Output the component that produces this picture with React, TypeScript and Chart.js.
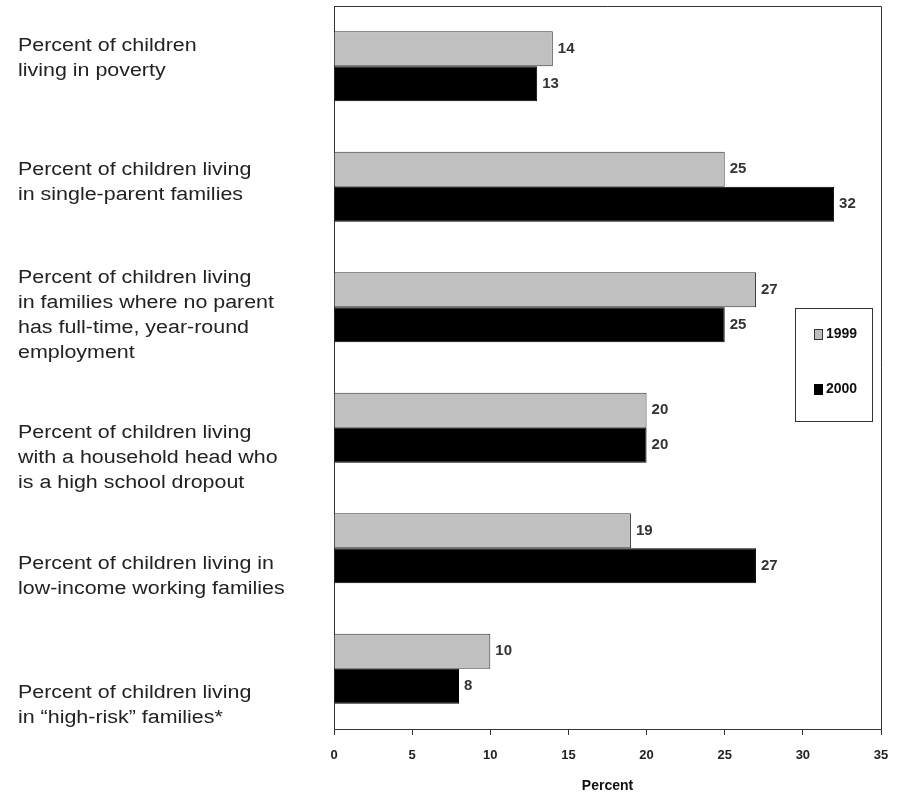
import React, { useEffect, useRef } from "react";
import { Chart, registerables } from "chart.js";

Chart.register(...registerables);

// ---- data ----
const categories: string[][] = [
  ["Percent of children", "living in poverty"],
  ["Percent of children living", "in single-parent families"],
  ["Percent of children living", "in families where no parent", "has full-time, year-round", "employment"],
  ["Percent of children living", "with a household head who", "is a high school dropout"],
  ["Percent of children living in", "low-income working families"],
  ["Percent of children living", "in \u201Chigh-risk\u201D families*"],
];
const seriesNames = ["1999", "2000"];
const values1999 = [14, 25, 27, 20, 19, 10];
const values2000 = [13, 32, 25, 20, 27, 8];
const xMin = 0;
const xMax = 35;
const xStep = 5;
const xTitle = "Percent";

// ---- styles ----
const LABEL_FONT = "18px 'Liberation Sans', Arial, sans-serif";
const LABEL_LINE_H = 25;
const LABEL_X = 18;
const LABEL_STRETCH = 1.19;
const LABEL_NUDGE = [-8, -4, 8, 30, 28, 37];
const FRAME = "#333333";

const framePlugin = {
  id: "frame",
  afterDraw(chart: any) {
    const { ctx, chartArea: a } = chart;
    ctx.save();
    ctx.strokeStyle = FRAME;
    ctx.lineWidth = 1;
    ctx.beginPath();
    ctx.moveTo(a.left, a.top + 0.5);
    ctx.lineTo(a.right + 0.5, a.top + 0.5);
    ctx.lineTo(a.right + 0.5, a.bottom);
    ctx.stroke();
    ctx.restore();
  },
};

const categoryLabelPlugin = {
  id: "catLabels",
  afterDraw(chart: any) {
    const { ctx } = chart;
    const yScale = chart.scales.y;
    ctx.save();
    ctx.font = LABEL_FONT;
    ctx.fillStyle = "#222222";
    ctx.textAlign = "left";
    ctx.textBaseline = "middle";
    categories.forEach((lines, i) => {
      const cy = yScale.getPixelForValue(i) + (LABEL_NUDGE[i] || 0);
      const startY = cy - ((lines.length - 1) * LABEL_LINE_H) / 2;
      lines.forEach((line, j) => {
        ctx.save();
        ctx.translate(LABEL_X, startY + j * LABEL_LINE_H);
        ctx.scale(LABEL_STRETCH, 1);
        ctx.fillText(line, 0, 0);
        ctx.restore();
      });
    });
    ctx.restore();
  },
};

const valueLabelPlugin = {
  id: "valueLabels",
  afterDatasetsDraw(chart: any) {
    const { ctx } = chart;
    ctx.save();
    ctx.font = "bold 15px 'Liberation Sans', Arial, sans-serif";
    ctx.fillStyle = "#333333";
    ctx.textAlign = "left";
    ctx.textBaseline = "middle";
    chart.data.datasets.forEach((ds: any, di: number) => {
      const meta = chart.getDatasetMeta(di);
      meta.data.forEach((el: any, i: number) => {
        ctx.fillText(String(ds.data[i]), el.x + 5, el.y);
      });
    });
    ctx.restore();
  },
};

const legendBoxPlugin = {
  id: "legendBox",
  afterDraw(chart: any) {
    const { ctx, chartArea: a } = chart;
    const w = 77;
    const h = 113;
    const left = a.right - 9 - w;
    const top = a.top + (a.height - h) / 2 - 3;
    ctx.save();
    ctx.fillStyle = "#ffffff";
    ctx.fillRect(left, top, w, h);
    ctx.strokeStyle = FRAME;
    ctx.lineWidth = 1;
    ctx.strokeRect(Math.round(left) + 0.5, Math.round(top) + 0.5, w, h);
    ctx.font = "bold 14px 'Liberation Sans', Arial, sans-serif";
    ctx.textAlign = "left";
    ctx.textBaseline = "middle";
    chart.data.datasets.forEach((ds: any, i: number) => {
      const cy = top + 26 + i * 55;
      ctx.fillStyle = ds.backgroundColor;
      ctx.fillRect(left + 19, cy - 5, 9, 11);
      ctx.strokeStyle = ds.borderColor;
      ctx.strokeRect(Math.round(left + 19) + 0.5, Math.round(cy - 5) + 0.5, 8, 10);
      ctx.fillStyle = "#111111";
      ctx.fillText(ds.label, left + 31, cy);
    });
    ctx.restore();
  },
};

export default function App() {
  const ref = useRef<HTMLCanvasElement | null>(null);

  useEffect(() => {
    const prevOverflow = document.body.style.overflow;
    document.body.style.overflow = "hidden";
    if (!ref.current) return;
    const chart = new Chart(ref.current, {
      type: "bar",
      data: {
        labels: categories.map((l) => l.join(" ")),
        datasets: [
          {
            label: seriesNames[0],
            data: values1999,
            backgroundColor: "#c0c0c0",
            borderColor: "#333333",
            borderWidth: 1,
            categoryPercentage: 0.58,
            barPercentage: 1.0,
          },
          {
            label: seriesNames[1],
            data: values2000,
            backgroundColor: "#000000",
            borderColor: "#000000",
            borderWidth: 1,
            categoryPercentage: 0.58,
            barPercentage: 1.0,
          },
        ],
      },
      options: {
        indexAxis: "y",
        animation: false,
        responsive: false,
        devicePixelRatio: 1,
        layout: { padding: { left: 334, top: 6, right: 24, bottom: 0 } },
        plugins: {
          legend: { display: false },
          tooltip: { enabled: false },
        },
        scales: {
          y: {
            type: "category",
            ticks: { display: false },
            grid: { display: false },
            border: { display: true, color: FRAME, width: 1 },
            afterFit: (s: any) => {
              s.width = 0;
            },
          },
          x: {
            type: "linear",
            min: xMin,
            max: xMax,
            ticks: {
              stepSize: xStep,
              color: "#222222",
              padding: 13,
              font: { family: "'Liberation Sans', Arial, sans-serif", size: 13, weight: "bold" },
            },
            grid: {
              display: true,
              drawOnChartArea: false,
              drawTicks: true,
              tickLength: 6,
              color: FRAME,
            },
            border: { display: true, color: FRAME, width: 1 },
            title: {
              display: true,
              text: xTitle,
              color: "#111111",
              padding: { top: 0, bottom: 2 },
              font: { family: "'Liberation Sans', Arial, sans-serif", size: 14, weight: "bold" },
            },
            afterFit: (s: any) => {
              s.height = 68;
            },
          },
        },
      } as any,
      plugins: [framePlugin, categoryLabelPlugin, valueLabelPlugin, legendBoxPlugin],
    });
    return () => {
      chart.destroy();
      document.body.style.overflow = prevOverflow;
    };
  }, []);

  return (
    <div style={{ position: "fixed", left: 0, top: 0, width: 905, height: 797, background: "#ffffff" }}>
      <canvas ref={ref} width={905} height={797} style={{ width: 905, height: 797, display: "block" }} />
    </div>
  );
}
